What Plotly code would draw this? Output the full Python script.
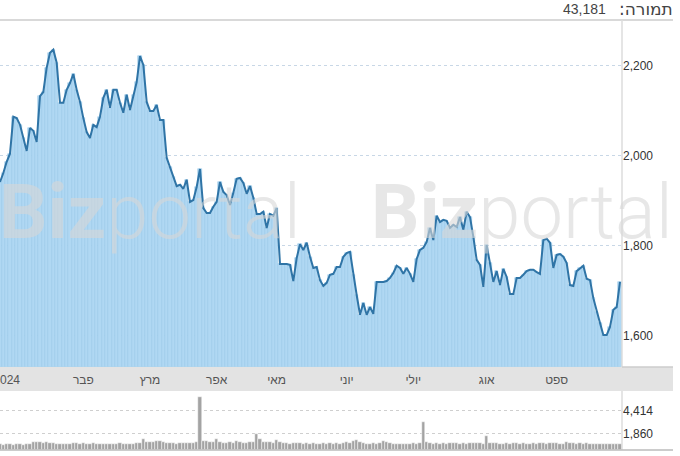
import plotly.graph_objects as go

# ---- data ----
price = [
    1942, 1962, 1987, 2005, 2087, 2084, 2069, 2040, 2011, 2062,
    2056, 2031, 2133, 2142, 2196, 2229, 2236, 2207, 2118, 2118,
    2147, 2162, 2182, 2147, 2120, 2084, 2053, 2040, 2069, 2064,
    2087, 2129, 2147, 2107, 2147, 2147, 2118, 2096, 2136, 2102,
    2136, 2164, 2222, 2202, 2120, 2100, 2100, 2113, 2080, 2080,
    1996, 1976, 1953, 1933, 1936, 1927, 1947, 1898, 1902, 1931,
    1971, 1884, 1873, 1873, 1887, 1898, 1942, 1920, 1913, 1891,
    1918, 1949, 1951, 1940, 1916, 1933, 1907, 1871, 1871, 1876,
    1840, 1871, 1867, 1884, 1760, 1760, 1760, 1758, 1722, 1773,
    1804, 1791, 1807,
    1776, 1751, 1753, 1724, 1711, 1718, 1736, 1738, 1753, 1753,
    1776, 1784, 1787, 1736, 1691, 1647, 1673, 1647, 1664, 1649,
    1720, 1720, 1720, 1722, 1729, 1740, 1756, 1751, 1738, 1751,
    1738, 1720, 1771, 1791, 1796, 1809, 1840, 1813, 1867, 1853,
    1858, 1856, 1840, 1847, 1842,
    1864, 1836, 1876, 1864, 1820, 1769, 1758, 1709, 1802, 1762,
    1720, 1744, 1713, 1749, 1731, 1693, 1693, 1729, 1729, 1736,
    1744, 1747, 1747, 1742, 1738, 1813, 1816, 1807, 1751, 1780,
    1782, 1776, 1762, 1713, 1711, 1744, 1750, 1756, 1727, 1724,
    1684, 1653, 1629, 1602, 1602, 1620, 1658, 1664, 1720,
]

volume = [
    640, 600, 620, 650, 600, 640, 620, 600, 650, 700,
    850, 900, 880, 820, 900, 800, 760, 700, 720, 680,
    700, 650, 750, 800, 720, 780, 700, 680, 750, 700,
    680, 700, 720, 650, 700, 690, 760, 700, 680, 720,
    700, 760, 820, 1250, 950, 880, 920, 1000, 980, 940,
    800, 760, 820, 700, 780, 760, 820, 800, 780, 850,
    6000, 1050, 1000, 880, 900, 1200, 860, 820, 760, 900,
    780, 1050, 880, 800, 760, 900, 850, 1800, 1250, 900,
    940, 850, 780, 1150, 880, 800, 760, 720, 800, 760,
    740, 700, 780, 720, 760, 700, 720, 760, 700, 740,
    700, 760, 650, 800, 880, 760, 1000, 1150, 900, 780,
    700, 720, 760, 720, 800, 1050, 880, 760, 700, 720,
    700, 680, 720, 700, 760, 720, 800, 3100, 900, 760,
    720, 760, 700, 740, 700, 760, 800, 740, 700, 760,
    720, 780, 740, 760, 800, 720, 1600, 800, 760, 740,
    700, 720, 760, 700, 740, 780, 700, 760, 720, 700,
    740, 700, 760, 780, 720, 760, 740, 780, 720, 700,
    880, 780, 760, 720, 740, 700, 760, 720, 700, 680,
    700, 720, 680, 700, 660, 700, 720,
]

month_labels = ["2024", "פבר", "מרץ", "אפר", "מאי", "יוני", "יולי", "אוג", "ספט"]
month_index = [2, 25, 45, 65, 83, 104, 124, 146, 167]

price_ticks = [1600, 1800, 2000, 2200]
vol_ticks = [1860, 4414]
turnover_title = ":תמורה"
turnover_value = "43,181"

idx = list(range(len(price)))
n = min(len(price), len(volume))

PRICE_MIN, PRICE_MAX = 1531, 2302
FONT = "Liberation Sans, Arial, sans-serif"

fig = go.Figure()
fig.add_trace(go.Bar(
    x=idx, y=[p - PRICE_MIN for p in price], base=PRICE_MIN,
    marker=dict(color="#b0d8f3", line=dict(color="#9bcaea", width=0.6)),
    hoverinfo="skip", xaxis="x", yaxis="y", showlegend=False,
))
fig.add_trace(go.Scatter(
    x=idx, y=price, mode="lines",
    line=dict(color="#2f74a6", width=2),
    xaxis="x", yaxis="y", showlegend=False,
))
fig.add_trace(go.Bar(
    x=idx[:n], y=volume[:n],
    marker=dict(color="#a3a3a3", line=dict(color="#ffffff", width=0.5)),
    xaxis="x2", yaxis="y2", showlegend=False,
))

H = 456
top_px, bot_px = 20, 450
span = bot_px - top_px
def py(px):
    return (bot_px - px) / span

right_px = 622
def px_x(px):
    return px / right_px

xr = [0.0, 186.6]
fig.update_layout(
    width=680, height=456,
    margin=dict(l=0, r=680 - right_px, t=top_px, b=H - bot_px, autoexpand=False),
    paper_bgcolor="white", plot_bgcolor="white",
    bargap=0.0,
    font=dict(family=FONT, size=12, color="#333"),
    xaxis=dict(domain=[0, 1], range=xr, anchor="y",
               tickvals=month_index, ticktext=month_labels,
               ticklabeloverflow="allow", ticklabelstandoff=4,
               showgrid=False, zeroline=False, showline=False,
               ticks="", tickfont=dict(size=12, color="#555")),
    yaxis=dict(domain=[py(367), 1], range=[PRICE_MIN, PRICE_MAX], side="right",
               tickvals=price_ticks, tickformat=",", showgrid=True,
               gridcolor="#c8d7e6", griddash="dot", gridwidth=1,
               zeroline=False, ticks="", tickfont=dict(size=12, color="#333")),
    xaxis2=dict(domain=[0, 1], range=xr, anchor="y2", showticklabels=False,
                showgrid=False, zeroline=False, ticks=""),
    yaxis2=dict(domain=[0, py(393)], range=[0, 6400], side="right",
                tickvals=vol_ticks, ticktext=[f"{v:,}" for v in vol_ticks],
                showgrid=True, gridcolor="#cfcfcf", griddash="dot",
                zeroline=False, ticks="", tickfont=dict(size=12, color="#333")),
)

shapes = [
    dict(type="rect", xref="paper", yref="paper", x0=-0.01, x1=px_x(673),
         y0=py(391), y1=py(367), fillcolor="#e3e3e3", line=dict(width=0), layer="below"),
    dict(type="line", xref="paper", yref="paper", x0=0, x1=px_x(673),
         y0=1, y1=1, line=dict(color="#cccccc", width=1.5)),
    dict(type="line", xref="paper", yref="paper", x0=1, x1=1,
         y0=py(367), y1=1, line=dict(color="#dddddd", width=1.5)),
    dict(type="line", xref="paper", yref="paper", x0=1, x1=px_x(673),
         y0=py(367), y1=py(367), line=dict(color="#cccccc", width=1.5)),
    dict(type="line", xref="paper", yref="paper", x0=1, x1=1,
         y0=0, y1=py(391), line=dict(color="#dddddd", width=1.5)),
    dict(type="line", xref="paper", yref="paper", x0=0, x1=px_x(673),
         y0=0, y1=0, line=dict(color="#bbbbbb", width=1.5)),
]
fig.update_layout(shapes=shapes)

annotations = [
    dict(text=turnover_title, xref="paper", yref="paper", x=px_x(675), y=py(9),
         xanchor="right", yanchor="middle", showarrow=False,
         font=dict(size=17, color="#444", family="DejaVu Sans")),
    dict(text=turnover_value, xref="paper", yref="paper", x=px_x(608), y=py(9),
         xanchor="right", yanchor="middle", showarrow=False,
         font=dict(size=14, color="#444", family=FONT)),
]
for x0 in (-3, 369):
    annotations.append(dict(
        text="<b>Biz</b>portal", xref="paper", yref="paper", x=px_x(x0), y=py(212),
        xanchor="left", yanchor="middle", showarrow=False,
        font=dict(size=76, color="rgba(215,215,215,0.6)", family="Roboto", weight=300),
    ))
fig.update_layout(annotations=annotations)

fig.write_html("out.html", config={"displayModeBar": False},
               post_script="document.body.style.margin='0px';")
